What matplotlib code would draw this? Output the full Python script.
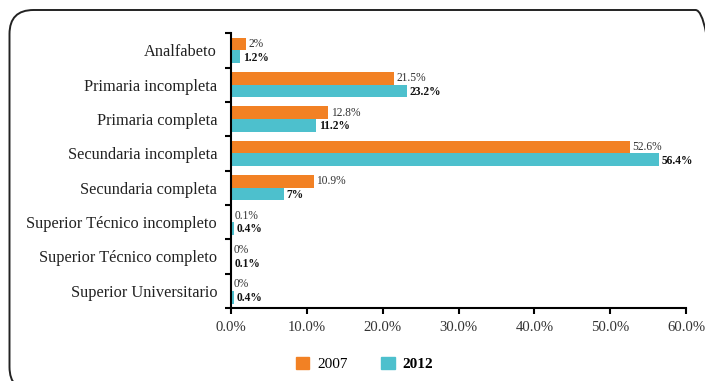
import numpy as np
import matplotlib.pyplot as plt
from matplotlib.patches import FancyBboxPatch, Patch
from matplotlib.ticker import FixedLocator, FuncFormatter

categories = ['Analfabeto', 'Primaria incompleta', 'Primaria completa',
              'Secundaria incompleta', 'Secundaria completa',
              'Superior Técnico incompleto', 'Superior Técnico completo',
              'Superior Universitario']
v2007 = [2, 21.5, 12.8, 52.6, 10.9, 0.1, 0, 0]
v2012 = [1.2, 23.2, 11.2, 56.4, 7, 0.4, 0.1, 0.4]
lab2007 = ['2%', '21.5%', '12.8%', '52.6%', '10.9%', '0.1%', '0%', '0%']
lab2012 = ['1.2%', '23.2%', '11.2%', '56.4%', '7%', '0.4%', '0.1%', '0.4%']
xticks = [0, 10, 20, 30, 40, 50, 60]

orange = '#F28124'
cyan = '#4DC0CD'

plt.rcParams['font.family'] = ['Liberation Serif', 'DejaVu Serif']

fig = plt.figure(figsize=(7.05, 3.81), dpi=100)
ax = fig.add_axes([0.3277, 0.1916, 0.6454, 0.7214])

# rounded frame around the whole chart (in inches, partly cut off at right/bottom)
frame = FancyBboxPatch((0.095, -0.10), 7.10, 3.81, boxstyle='round,pad=0,rounding_size=0.24',
                       transform=fig.dpi_scale_trans, fill=False, edgecolor='#222222',
                       linewidth=1.4)
fig.patches.append(frame)

y = np.arange(len(categories))
h = 0.37
ax.barh(y - h / 2, v2007, height=h, color=orange, label='2007')
ax.barh(y + h / 2, v2012, height=h, color=cyan, label='2012')

for i in range(len(categories)):
    ax.text(v2007[i] + 0.35, y[i] - h / 2, lab2007[i], va='center', ha='left',
            fontsize=8.3, color='#333333')
    ax.text(v2012[i] + 0.35, y[i] + h / 2 + 0.03, lab2012[i], va='center', ha='left',
            fontsize=8.3, color='#111111', fontweight='bold')

ax.set_ylim(len(categories) - 0.5, -0.5)
ax.set_xlim(0, 60)
ax.set_yticks(y)
ax.set_yticklabels(categories, fontsize=11.8, color='#222222')
ax.yaxis.set_minor_locator(FixedLocator(np.arange(-0.5, len(categories), 1)))
ax.tick_params(axis='y', which='major', length=0, pad=10)
ax.tick_params(axis='y', which='minor', length=4, width=1.5, direction='out')
ax.set_xticks(xticks)
ax.xaxis.set_major_formatter(FuncFormatter(lambda v, p: '%.1f%%' % v))
ax.tick_params(axis='x', length=4, width=1.5, labelsize=10.6, labelcolor='#333333', pad=5)

for s in ['top', 'right']:
    ax.spines[s].set_visible(False)
for s in ['left', 'bottom']:
    ax.spines[s].set_linewidth(1.5)

handles = [Patch(color=orange, label='2007'), Patch(color=cyan, label='2012')]
leg = fig.legend(handles=handles, loc='center', bbox_to_anchor=(0.517, 0.045),
                 ncol=2, frameon=False, fontsize=11, handlelength=0.9,
                 handleheight=0.9, columnspacing=2.2, handletextpad=0.5)
leg.get_texts()[1].set_fontweight('bold')

fig.savefig('out.png', dpi=100)
